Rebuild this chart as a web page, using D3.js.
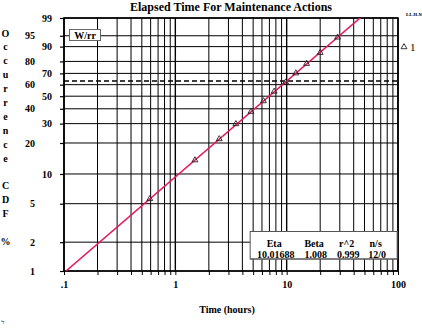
<!DOCTYPE html>
<html>
<head>
<meta charset="utf-8">
<script src="https://cdn.jsdelivr.net/npm/d3@7"></script>
<style>
  body { margin: 0; background: #fff; }
  text { font-family: "Liberation Serif", "Times New Roman", serif; }
</style>
</head>
<body>
<svg id="chart" width="422" height="328"></svg>
<script>
const times = [0.59, 1.5, 2.48, 3.5, 4.78, 6.19, 7.72, 9.79, 12.1, 15.1, 20.0, 28.7];
const ranks = [5.6, 13.7, 21.8, 29.8, 37.9, 46.0, 54.0, 62.1, 70.2, 78.2, 86.3, 94.4];

// fitted weibull parameters
const eta = 10.01688, beta = 1.008;

const yTicks = [99, 95, 90, 80, 70, 60, 50, 40, 30, 20, 10, 5, 2, 1];
const xLabels = [0.1, 1, 10, 100];
const xLabelText = [".1", "1", "10", "100"];
const statHeaders = ["Eta", "Beta", "r^2", "n/s"];
const statValues = ["10.01688", "1.008", "0.999", "12/0"];
const sideLabel = "Occurrence CDF %";

const margin = { top: 18, right: 24, bottom: 57, left: 64 },
      W = 422, H = 328,
      width = W - margin.left - margin.right,
      height = H - margin.top - margin.bottom;

const svg = d3.select("#chart");

// weibull probability transform
const weib = p => Math.log(-Math.log(1 - p / 100));

const x = d3.scaleLog().domain([0.1, 100]).range([0, width]);
const y = d3.scaleLinear().domain([weib(1), weib(99)]).range([height, 0]);

const g = svg.append("g").attr("transform", `translate(${margin.left},${margin.top})`);

// vertical grid lines at every 1..9 of each decade
let xGrid = [];
[0.1, 1, 10].forEach(dec => d3.range(1, 10).forEach(k => xGrid.push(dec * k)));
xGrid.push(100);

g.append("g")
  .selectAll("line")
  .data(xGrid)
  .enter().append("line")
  .attr("x1", d => x(d)).attr("x2", d => x(d))
  .attr("y1", 0).attr("y2", height)
  .attr("stroke", "#000")
  .attr("stroke-width", d => xLabels.includes(d) ? 1.4 : 1);

g.append("g")
  .selectAll("line")
  .data(yTicks)
  .enter().append("line")
  .attr("x1", 0).attr("x2", width)
  .attr("y1", d => y(weib(d))).attr("y2", d => y(weib(d)))
  .attr("stroke", "#000")
  .attr("stroke-width", 1);

// axes
const yAxis = d3.axisLeft(y)
  .tickValues(yTicks.map(weib))
  .tickFormat((d, i) => yTicks[i])
  .tickSize(4)
  .tickPadding(8);

const ya = g.append("g").call(yAxis);
ya.select(".domain").remove();
ya.selectAll("line").attr("stroke", "#000").attr("stroke-width", 1.2);
ya.selectAll("text")
  .style("font-size", "10px")
  .style("font-weight", "bold")
  .attr("fill", "#000")
  .attr("dx", (d, i) => {
    const v = yTicks[i];
    return (i % 2 === 1 || (v > 1 && v < 10)) ? -17 : 0;
  });

const xAxis = d3.axisBottom(x)
  .tickValues(xGrid)
  .tickFormat(d => {
    const i = xLabels.indexOf(d);
    return i >= 0 ? xLabelText[i] : "";
  })
  .tickSize(4)
  .tickPadding(6);

const xa = g.append("g").attr("transform", `translate(0,${height})`).call(xAxis);
xa.select(".domain").remove();
xa.selectAll("line").attr("stroke", "#000");
xa.selectAll("text")
  .style("font-size", "10px")
  .style("font-weight", "bold")
  .attr("fill", "#000");

// frame
g.append("rect")
  .attr("width", width).attr("height", height)
  .attr("fill", "none")
  .attr("stroke", "#000")
  .attr("stroke-width", 1.6);

// 63.2% line
g.append("line")
  .attr("x1", 0).attr("x2", width)
  .attr("y1", y(0)).attr("y2", y(0))
  .attr("stroke", "#000")
  .attr("stroke-width", 1.5)
  .attr("stroke-dasharray", "5,3");

// fitted line
g.append("clipPath").attr("id", "clip")
  .append("rect").attr("width", width).attr("height", height);

const tLine = [0.1, 100];
g.append("path")
  .datum(tLine)
  .attr("clip-path", "url(#clip)")
  .attr("fill", "none")
  .attr("stroke", "#e3195c")
  .attr("stroke-width", 1.5)
  .attr("d", d3.line()
    .x(t => x(t))
    .y(t => y(beta * Math.log(t / eta))));

// data points
const tri = d3.symbol().type(d3.symbolTriangle).size(15);
g.selectAll(".pt")
  .data(times)
  .enter().append("path")
  .attr("class", "pt")
  .attr("d", tri)
  .attr("transform", (d, i) => `translate(${x(d)},${y(weib(ranks[i]))})`)
  .attr("fill", "none")
  .attr("stroke", "#222")
  .attr("stroke-width", 0.9);

// W/rr box
g.append("rect")
  .attr("x", 5.5).attr("y", 11.5)
  .attr("width", 31).attr("height", 11)
  .attr("fill", "#fff")
  .attr("stroke", "#666");
g.append("text")
  .attr("x", 21).attr("y", 20.5)
  .attr("text-anchor", "middle")
  .style("font-size", "10px")
  .style("font-weight", "bold")
  .text("W/rr");

// stats box
const sb = g.append("g").attr("transform", `translate(${x(4.7)},213.5)`);
sb.append("rect")
  .attr("width", 147).attr("height", 27.5)
  .attr("fill", "#fff")
  .attr("stroke", "#555");
const colX = [24, 64, 96.5, 125.5];
sb.selectAll(".hd")
  .data(statHeaders)
  .enter().append("text")
  .attr("x", (d, i) => colX[i]).attr("y", 15)
  .attr("text-anchor", "middle")
  .style("font-size", "10px")
  .style("font-weight", "bold")
  .text(d => d);
sb.selectAll(".vl")
  .data(statValues)
  .enter().append("text")
  .attr("x", (d, i) => colX[i] + 1.5).attr("y", 26.5)
  .attr("text-anchor", "middle")
  .style("font-size", "10px")
  .style("font-weight", "bold")
  .text(d => d);
sb.append("line")
  .attr("x1", 0).attr("x2", 147)
  .attr("y1", 27.5).attr("y2", 27.5)
  .attr("stroke", "#555");

// title
svg.append("text")
  .attr("x", 231).attr("y", 10.5)
  .attr("text-anchor", "middle")
  .style("font-size", "12px")
  .style("font-weight", "bold")
  .text("Elapsed Time For Maintenance Actions");

// x title
svg.append("text")
  .attr("x", 227).attr("y", 313)
  .attr("text-anchor", "middle")
  .style("font-size", "10px")
  .style("font-weight", "bold")
  .text("Time (hours)");

// stacked side label
svg.append("g")
  .selectAll("text")
  .data(sideLabel.split(""))
  .enter().append("text")
  .attr("x", 5.5)
  .attr("y", (d, i) => 36.5 + i * 13.9)
  .attr("text-anchor", "middle")
  .style("font-size", "10px")
  .style("font-weight", "bold")
  .text(d => d);

// legend
svg.append("path")
  .attr("d", tri)
  .attr("transform", "translate(404,47)")
  .attr("fill", "none")
  .attr("stroke", "#222")
  .attr("stroke-width", 0.9);
svg.append("text")
  .attr("x", 410).attr("y", 50.5)
  .style("font-size", "11px")
  .text("1");

// small marks in the corners
svg.append("text")
  .attr("x", 406).attr("y", 15.5)
  .style("font-size", "5px")
  .style("font-weight", "bold")
  .text("LLJLM");
svg.append("text")
  .attr("x", 1).attr("y", 324)
  .style("font-size", "6px")
  .text("Ϟ");
</script>
</body>
</html>
